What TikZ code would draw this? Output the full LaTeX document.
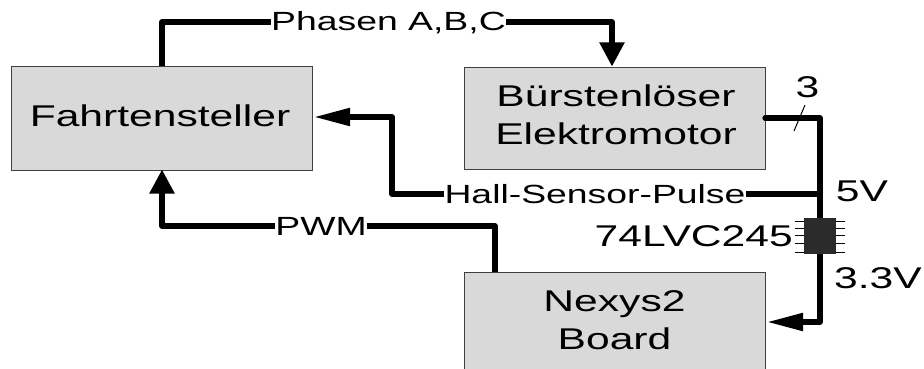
\documentclass[tikz,border=0pt]{standalone}
\usepackage{fontspec}
\newfontfamily\widesans[FakeStretch=1.42]{Liberation Sans}
\usetikzlibrary{arrows.meta}
\tikzset{
  x=1pt,y=-1pt,
  blockbox/.style={draw=black!75,line width=0.8pt,fill=black!15,minimum width=301pt,anchor=north west,inner sep=0pt},
  blocktext/.style={font=\widesans\fontsize{30}{38.5}\selectfont,align=center,inner sep=0pt},
  wire/.style={line width=5.2pt,line join=round,line cap=round,black},
  harrow/.style={wire,-{Triangle[length=36pt,width=17pt]},line cap=butt},
  varrow/.style={wire,-{Triangle[length=24pt,width=24pt]},line cap=butt},
  lab/.style={font=\widesans\fontsize{30}{34}\selectfont,inner sep=1pt},
  wirelab/.style={font=\widesans\fontsize{26.3}{30}\selectfont,inner sep=0.5pt,fill=white},
  pin/.style={line width=0.7pt,black}
}
\begin{document}
\begin{tikzpicture}
\useasboundingbox (0,0) rectangle (924,369);
\clip (0,0) rectangle (924,369);
\node[blockbox,minimum height=103pt] (fahr) at (11,66.5) {};
\node[blockbox,minimum height=102pt] (motor) at (464,67) {};
\node[blockbox,minimum height=110pt] (nexys) at (464,272) {};
\node[blocktext] (fahrtext) at (160,115.5) {Fahrtensteller};
\node[blocktext] (motortext) at (616,115) {Bürstenlöser\\Elektromotor};
\node[blocktext] (nexystext) at (614.5,320) {Nexys2\\Board};

\coordinate (c1) at (162,22);
\coordinate (c2) at (612,22);
\coordinate (c3) at (820,118);
\coordinate (hallj) at (820,194);
\coordinate (c4) at (392,194);
\coordinate (c5) at (392,117);
\coordinate (c6) at (820,322);
\coordinate (c7) at (495,226);
\coordinate (c8) at (162,226);
\coordinate (motorout) at (765,118);
\coordinate (motorin) at (612,66.5);
\coordinate (fahrout) at (162,66);
\coordinate (fahrin) at (162,169.5);
\coordinate (fahrhall) at (314,117);
\coordinate (nexysin) at (767,322);
\coordinate (nexysout) at (495,272);

\draw[varrow] (fahrout) -- (c1) -- (c2) -- (motorin);
\draw[wire] (motorout) -- (c3) -- (hallj);
\draw[harrow] (hallj) -- (c4) -- (c5) -- (fahrhall);
\draw[wire] (hallj) -- (820,225);
\draw[harrow] (820,250) -- (c6) -- (nexysin);
\draw[varrow] (nexysout) -- (c7) -- (c8) -- (fahrin);

\node[wirelab] (phasen) at (388.5,23) {Phasen A,B,C};
\node[wirelab] (hall) at (595,194.5) {Hall-Sensor-Pulse};
\node[wirelab] (pwm) at (321,226.5) {PWM};

\coordinate (t1) at (794,131);
\coordinate (t2) at (805,105);
\draw[line width=1pt] (t1) -- (t2);
\node[lab] (three) at (807.5,87) {3};
\node[lab] (fivev) at (862,191) {5V};
\node[lab] (threev) at (878,278) {3.3V};

\foreach \y in {221,228,235.5,243,252}{
  \draw[pin] (795,\y) -- (845,\y);
}
\node[fill=black!83,minimum width=32pt,minimum height=36pt,inner sep=0pt,anchor=north west] (chip) at (804,218) {};
\node[lab,anchor=east] (chiplab) at (794,236) {74LVC245};
\end{tikzpicture}
\end{document}
